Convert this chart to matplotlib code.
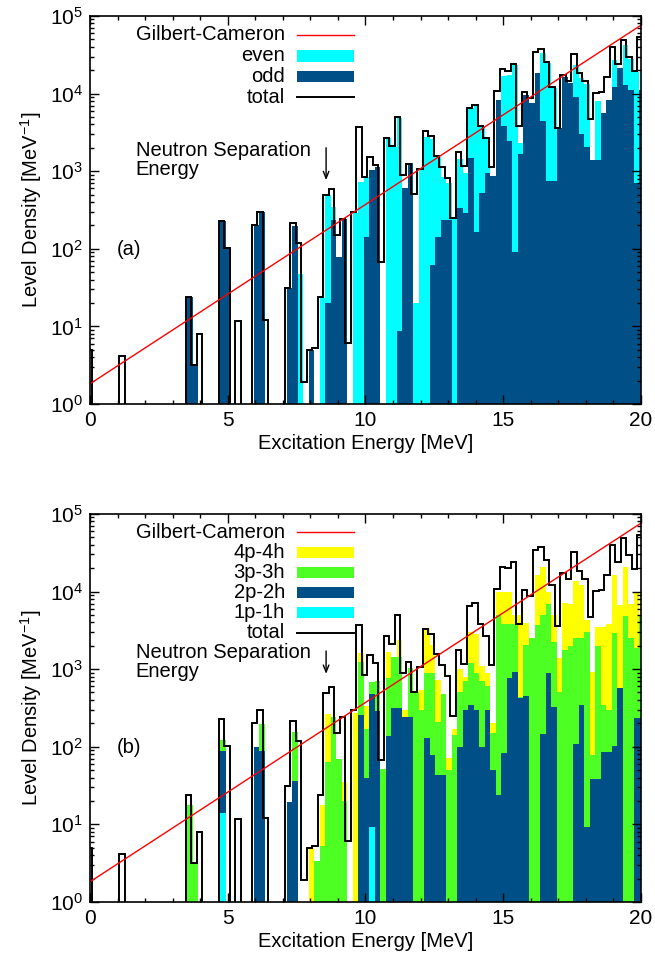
import numpy as np
import matplotlib
matplotlib.use('Agg')
import matplotlib.pyplot as plt
from matplotlib.patches import Rectangle
from matplotlib.lines import Line2D
from matplotlib.ticker import MultipleLocator, LogLocator, NullFormatter

plt.rcParams['font.family'] = ['Liberation Sans', 'DejaVu Sans']
plt.rcParams['mathtext.fontset'] = 'custom'
plt.rcParams['mathtext.rm'] = 'Liberation Sans'
plt.rcParams['mathtext.it'] = 'Liberation Sans:italic'

# bin centres 0, 0.2, ..., 20 MeV
energy = np.arange(101) * 0.2

total = [
    5.0, 0, 0, 0, 0, 0, 4.2, 0, 0, 0,
    0, 0, 0, 0, 0, 0, 0, 0, 24, 3.2,
    7.9, 0, 0, 0, 228, 102, 0, 11.8, 0, 0,
    203, 301, 12.1, 0, 0, 0, 31, 213, 118, 1.9,
    5.0, 5.2, 24, 494, 584, 151, 240, 6.1, 301, 3675,
    850, 1540, 1200, 68, 2700, 2110, 5040, 893, 1240, 508,
    1068, 3300, 2840, 1585, 1143, 826, 247, 1785, 1178, 6460,
    7130, 3820, 2700, 1122, 10700, 20500, 19800, 23800, 3820, 10600,
    8690, 34700, 37600, 25800, 12000, 3600, 17400, 14500, 32400, 18600,
    14300, 4660, 10300, 10600, 16500, 39500, 24100, 49100, 29300, 19600,
    54200]

even = [
    0, 0, 0, 0, 0, 0, 0, 0, 0, 0,
    0, 0, 0, 0, 0, 0, 0, 0, 0, 0,
    0, 0, 0, 0, 0, 0, 0, 0, 0, 0,
    0, 0, 0, 0, 0, 0, 0, 0, 48, 0,
    0, 0, 23, 490, 349, 60, 5, 0, 286, 733,
    850, 500, 60, 0, 2650, 2070, 4800, 300, 100, 20,
    1090, 2790, 2600, 1500, 850, 700, 245, 1420, 940, 6460,
    7130, 3750, 2790, 250, 2400, 16900, 17400, 23400, 2290, 1000,
    1000, 16000, 33000, 25000, 11700, 100, 1000, 1000, 23400, 15700,
    13400, 940, 8000, 5000, 8000, 27000, 3000, 42300, 28000, 19000,
    9000]

odd = [
    0, 0, 0, 0, 0, 0, 0, 0, 0, 0,
    0, 0, 0, 0, 0, 0, 0, 0, 24, 3.2,
    0, 0, 0, 0, 226, 102, 0, 0, 0, 0,
    200, 300, 0, 0, 0, 0, 31, 195, 0, 0,
    5, 0, 0, 20, 235, 79, 240, 0, 0, 0,
    143, 1036, 1143, 0, 0, 0, 8.6, 600, 1262, 0,
    0, 0, 62, 143, 235, 235, 0, 332, 292, 1465,
    166, 518, 957, 875, 8270, 3820, 2450, 92, 1650, 9600,
    7640, 18600, 4430, 740, 750, 3570, 16500, 13500, 9000, 3000,
    2070, 1390, 1400, 5570, 8270, 12000, 21200, 12900, 11100, 698,
    11000]

ph4 = [
    0, 0, 0, 0, 0, 0, 0, 0, 0, 0,
    0, 0, 0, 0, 0, 0, 0, 0, 0, 0,
    0, 0, 0, 0, 0, 0, 0, 0, 0, 0,
    0, 0, 0, 0, 0, 0, 0, 0, 0, 0,
    4.9, 2, 18, 261, 200, 30, 35, 0, 269, 1590,
    330, 400, 300, 0, 1680, 625, 2380, 300, 500, 500,
    537, 3360, 2040, 725, 400, 72, 169, 1000, 800, 3000,
    2800, 1100, 900, 200, 10000, 9800, 9800, 5000, 5000, 3900,
    2500, 16400, 20900, 10000, 5000, 1400, 7080, 7000, 13700, 12000,
    4300, 930, 3540, 3540, 3800, 16400, 6700, 20900, 7000, 10000,
    4000]

ph3 = [
    0, 0, 0, 0, 0, 0, 0, 0, 0, 0,
    0, 0, 0, 0, 0, 0, 0, 0, 18, 3.2,
    0, 0, 0, 0, 122, 0, 0, 0, 0, 0,
    0, 194, 0, 0, 0, 0, 0, 156, 0, 0,
    0, 3.4, 5.2, 64, 240, 70, 20, 0, 0, 1250,
    170, 690, 700, 52, 760, 1450, 1450, 200, 1025, 512,
    300, 883, 883, 210, 473, 50, 141, 500, 700, 1200,
    900, 700, 600, 150, 5000, 3800, 3800, 3800, 442, 2040,
    2500, 3720, 5000, 6950, 2260, 510, 1770, 2000, 2500, 2500,
    3030, 78, 2000, 345, 300, 2900, 464, 4770, 2500, 1850,
    5000]

ph2 = [
    0, 0, 0, 0, 0, 0, 0, 0, 0, 0,
    0, 0, 0, 0, 0, 0, 0, 0, 0, 0,
    0, 0, 0, 0, 88, 0, 0, 0, 0, 0,
    100, 88, 0, 0, 0, 0, 19.5, 36, 0, 0,
    0, 0, 0, 0, 0, 0, 0, 0, 0, 256,
    40, 478, 288, 0, 139, 312, 312, 241, 241, 0,
    0, 128, 78, 43, 43, 0, 0, 100, 300, 350,
    300, 100, 300, 50, 24, 82, 760, 930, 420, 451,
    0, 0, 148, 883, 328, 0, 0, 0, 107, 345,
    9.3, 38, 38, 86, 86, 103, 570, 0, 0, 232,
    232]

ph1 = [0] * 101
ph1[24] = 13.8
ph1[51] = 9.3

gc_energy = [0.0, 20.0]
gc_density = [1.82, 76000.0]
sn_energy = 8.57

c_cyan = '#00ffff'
c_dark = '#004f86'
c_yellow = '#ffff00'
c_green = '#4dff22'

FS = 14.5


def draw_panel(ax, layers, names, colors, tag, arrow_y, leg_y, note_y):
    for vals, col in zip(layers, colors):
        v = np.asarray(vals, float)
        ax.bar(energy + 0.035, np.where(v > 1, v - 1, 0), bottom=1, width=0.2,
               color=col, linewidth=0)
    t = np.asarray(total, float)
    edges = np.append(energy - 0.1, 20.1) - 0.03
    ax.stairs(np.where(t > 0, t, 1e-3), edges, color='black', lw=1.4, baseline=None)
    ax.plot(gc_energy, gc_density, color='red', lw=1.0)

    ax.set_yscale('log')
    ax.set_xlim(0, 20)
    ax.set_ylim(1, 1e5)
    ax.xaxis.set_major_locator(MultipleLocator(5))
    ax.xaxis.set_minor_locator(MultipleLocator(1))
    ax.yaxis.set_major_locator(LogLocator(base=10, numticks=10))
    ax.yaxis.set_minor_locator(LogLocator(base=10, subs=np.arange(2, 10), numticks=20))
    ax.yaxis.set_minor_formatter(NullFormatter())
    ax.tick_params(which='both', direction='in', top=True, right=True, labelsize=15, width=1.0)
    ax.tick_params(which='major', length=6.5, pad=5)
    ax.tick_params(which='minor', length=3.2)
    for s in ax.spines.values():
        s.set_linewidth(1.2)
    ax.set_xlabel('Excitation Energy [MeV]', fontsize=FS, labelpad=3)
    ax.set_ylabel('Level Density [MeV$^{-1}$]', fontsize=FS, labelpad=4)

    # gnuplot-style key: label on the left, sample on the right
    entries = [('Gilbert-Cameron', 'line', 'red', 1.0)]
    entries += [(n, 'box', c, 0) for n, c in names]
    entries += [('total', 'line', 'black', 1.4)]
    for i, (lab, kind, col, lw) in enumerate(entries):
        y = leg_y[i]
        ax.text(0.354, y, lab, transform=ax.transAxes, ha='right', va='center', fontsize=FS)
        if kind == 'line':
            ax.add_line(Line2D([0.376, 0.479], [y, y], transform=ax.transAxes, color=col, lw=lw))
        else:
            ax.add_patch(Rectangle((0.376, y - 0.0145), 0.103, 0.029, transform=ax.transAxes,
                                   color=col, lw=0))

    ax.text(0.083, note_y, 'Neutron Separation\nEnergy', transform=ax.transAxes,
            ha='left', va='top', fontsize=FS, linespacing=1.0)
    ax.annotate('', xy=(sn_energy, arrow_y[1]), xytext=(sn_energy, arrow_y[0]),
                arrowprops=dict(arrowstyle='->,head_length=0.5,head_width=0.2', lw=1.0, color='black'))
    ax.text(0.07, 0.397, tag, transform=ax.transAxes, ha='center', va='center', fontsize=FS)


fig = plt.figure(figsize=(6.55, 9.66), dpi=100)
ax_a = fig.add_axes([0.1374, 0.5818, 0.8412, 0.4017])
ax_b = fig.add_axes([0.1374, 0.0663, 0.8412, 0.4017])

draw_panel(ax_a, [even, odd], [('even', c_cyan), ('odd', c_dark)],
           [c_cyan, c_dark], '(a)', (2175, 705), [0.951, 0.897, 0.843, 0.791], 0.678)
draw_panel(ax_b, [ph4, ph3, ph2, ph1],
           [('4p-4h', c_yellow), ('3p-3h', c_green), ('2p-2h', c_dark), ('1p-1h', c_cyan)],
           [c_yellow, c_green, c_dark, c_cyan], '(b)', (1860, 800),
           [0.953, 0.901, 0.849, 0.797, 0.745, 0.694], 0.668)

fig.savefig('out.png', dpi=100)
